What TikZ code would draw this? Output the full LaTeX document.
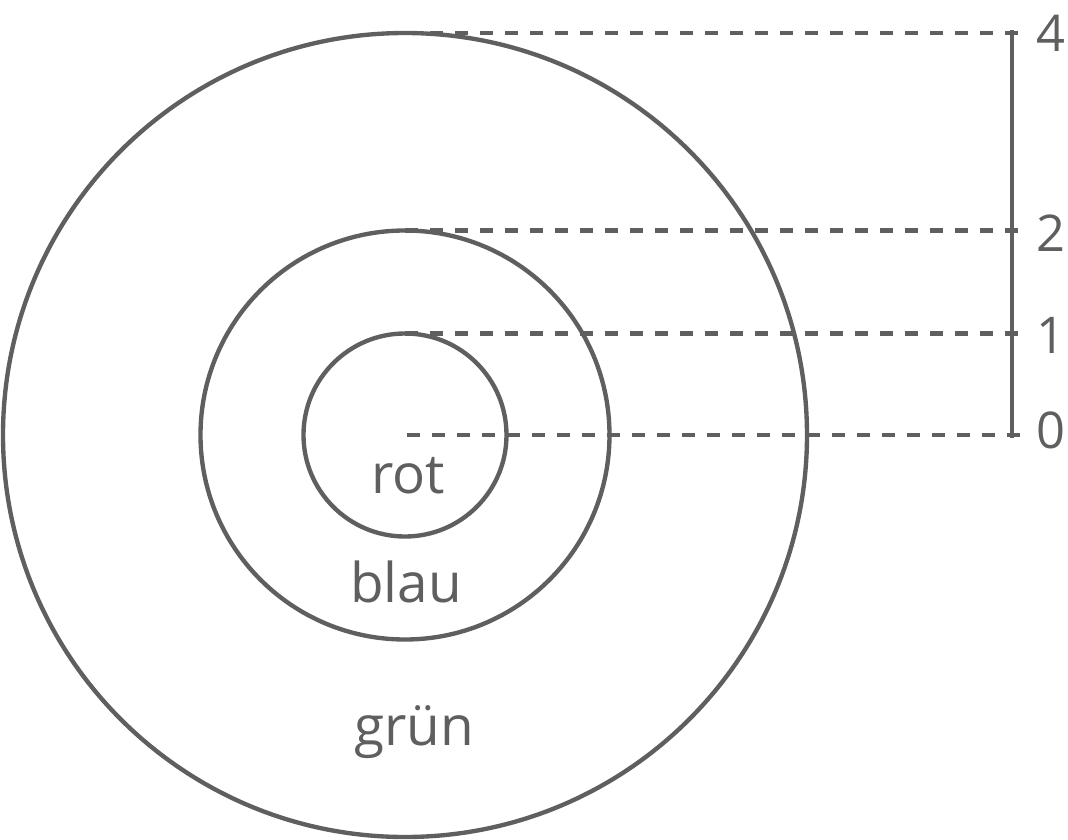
\documentclass[tikz,border=0pt]{standalone}
\usepackage{fontspec}
\setmainfont{Open Sans}
\usepackage{tikz}
\usetikzlibrary{positioning}
\definecolor{ink}{RGB}{95,95,95}
\tikzstyle{ring} = [circle, draw=ink, line width=3.1pt, inner sep=0pt, outer sep=0pt]
\tikzstyle{levelline} = [draw=ink, line width=3.2pt, dash pattern=on 0.335cm off 0.29cm, shorten >=0.2cm]
\tikzstyle{axisline} = [draw=ink, line width=2.9pt]
\tikzstyle{scalelabel} = [text=ink, font=\fontsize{36}{36}\selectfont, inner sep=0pt, anchor=west]
\tikzstyle{ringlabel} = [text=ink, font=\fontsize{39}{39}\selectfont, anchor=base, inner sep=0pt]
\begin{document}
\begin{tikzpicture}[x=2.5cm, y=2.5cm]
  \useasboundingbox (-4.05,-4.04) rectangle (6.63,4.35);
  \coordinate (c) at (0,0);
  % the three rings
  \node[ring, minimum size=5.075cm] (rot) at (c) {};
  \node[ring, minimum size=10.225cm] (blau) at (c) {};
  \node[ring, minimum size=20.1cm] (gruen) at (c) {};
  \node[ringlabel] (trot) at (0.03,-0.58) {rot};
  \node[ringlabel] (tblau) at (0.01,-1.67) {blau};
  \node[ringlabel] (tgruen) at (0.09,-3.10) {grün};
  % scale on the right
  \coordinate (a4) at (6.07,4.02);
  \coordinate (a2) at (6.07,2.02);
  \coordinate (a1) at (6.07,1.00);
  \coordinate (a0) at (6.07,0);
  \node[scalelabel, right=0.6cm of a4] (n4) {4};
  \node[scalelabel, right=0.6cm of a2] (n2) {2};
  \node[scalelabel, right=0.6cm of a1] (n1) {1};
  \node[scalelabel, right=0.6cm of a0, yshift=0.12cm] (n0) {0};
  \draw[axisline] ([yshift=0.08cm]a4) -- ([yshift=-0.08cm]a0);
  \draw[levelline] (gruen.north) -- (gruen.north -| n4.west);
  \draw[levelline] (blau.north) -- (blau.north -| n2.west);
  \draw[levelline] (rot.north) -- (rot.north -| n1.west);
  \draw[levelline] ([xshift=0.05cm]c) -- (c -| n0.west);
\end{tikzpicture}
\end{document}
